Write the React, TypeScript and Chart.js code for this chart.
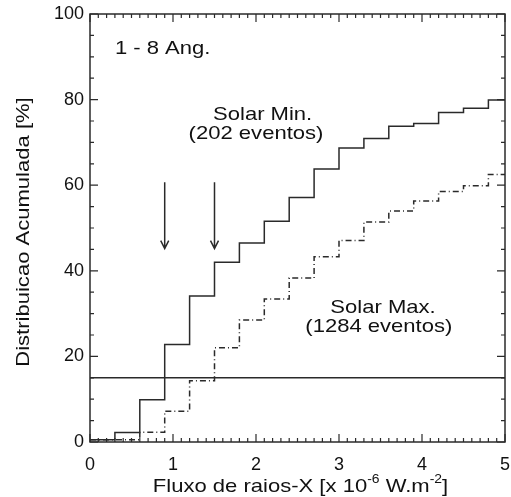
import React, { useEffect, useRef } from "react";
import { Chart, registerables } from "chart.js";

Chart.register(...registerables);

// bin edges of the cumulative histograms (x in 10^-6 W.m^-2)
const binEdges = [0, 0.3, 0.6, 0.9, 1.2, 1.5, 1.8, 2.1, 2.4, 2.7, 3.0, 3.3, 3.6, 3.9, 4.2, 4.5, 4.8, 5.0];
// cumulative distribution [%]
const solarMin = [0.5, 2.2, 9.9, 22.8, 34.1, 42.0, 46.5, 51.6, 57.1, 63.8, 68.7, 70.9, 73.8, 74.4, 77.0, 78.0, 79.9, 79.9];
const solarMax = [0.5, 0.5, 2.3, 7.2, 14.3, 22.0, 28.5, 33.4, 38.3, 43.3, 47.1, 51.4, 54.0, 56.3, 58.5, 59.9, 62.5, 62.5];
const thresholdX = [0, 5];
const thresholdY = [15, 15];
const arrowX = [0.9, 1.5];
const arrowFromY = 60.7;
const arrowToY = 45.2;
const xTicks = [0, 1, 2, 3, 4, 5];
const yTicks = [0, 20, 40, 60, 80, 100];

const INK = "#2a2a2a";
const FONT = "Liberation Sans, Arial, Helvetica, sans-serif";
const SX = 1.16;

function drawText(ctx: CanvasRenderingContext2D, parts: { t: string; size: number; dy: number }[], x: number, y: number, align: "left" | "center") {
  let total = 0;
  const widths = parts.map((p) => {
    ctx.font = `${p.size}px ${FONT}`;
    const w = ctx.measureText(p.t).width * SX;
    total += w;
    return w;
  });
  let cx = align === "center" ? x - total / 2 : x;
  parts.forEach((p, i) => {
    ctx.save();
    ctx.font = `${p.size}px ${FONT}`;
    ctx.translate(cx, y + p.dy);
    ctx.scale(SX, 1);
    ctx.textAlign = "left";
    ctx.textBaseline = "alphabetic";
    ctx.fillText(p.t, 0, 0);
    ctx.restore();
    cx += widths[i];
  });
}

const decorPlugin = {
  id: "decor",
  afterDraw(chart: any) {
    const ctx: CanvasRenderingContext2D = chart.ctx;
    const xs = chart.scales.x;
    const ys = chart.scales.y;
    const a = chart.chartArea;
    ctx.save();
    ctx.strokeStyle = INK;
    ctx.fillStyle = "#111";
    ctx.lineWidth = 1.5;
    // frame
    ctx.strokeRect(a.left, a.top, a.right - a.left, a.bottom - a.top);
    // x ticks (inward, bottom and top)
    ctx.lineWidth = 1.2;
    for (let i = 0; i <= 50; i++) {
      const v = i / 10;
      const px = xs.getPixelForValue(v);
      const len = i % 10 === 0 ? 8 : 4;
      ctx.beginPath();
      ctx.moveTo(px, a.bottom);
      ctx.lineTo(px, a.bottom - len);
      ctx.moveTo(px, a.top);
      ctx.lineTo(px, a.top + len);
      ctx.stroke();
    }
    for (let i = 0; i <= 20; i++) {
      const v = i * 5;
      const py = ys.getPixelForValue(v);
      const len = i % 4 === 0 ? 8 : 4;
      ctx.beginPath();
      ctx.moveTo(a.left, py);
      ctx.lineTo(a.left + len, py);
      ctx.moveTo(a.right, py);
      ctx.lineTo(a.right - len, py);
      ctx.stroke();
    }
    // arrows
    ctx.lineWidth = 1.5;
    arrowX.forEach((v) => {
      const px = xs.getPixelForValue(v);
      const y1 = ys.getPixelForValue(arrowFromY);
      const y2 = ys.getPixelForValue(arrowToY);
      ctx.beginPath();
      ctx.moveTo(px, y1);
      ctx.lineTo(px, y2);
      ctx.moveTo(px - 4, y2 - 8);
      ctx.lineTo(px, y2);
      ctx.lineTo(px + 4, y2 - 8);
      ctx.stroke();
    });
    // annotations
    const F = 19;
    drawText(ctx, [{ t: "1 - 8 Ang.", size: F, dy: 0 }], xs.getPixelForValue(0.3), ys.getPixelForValue(90.6), "left");
    drawText(ctx, [{ t: "Solar Min.", size: F, dy: 0 }], xs.getPixelForValue(2.08), ys.getPixelForValue(75.2), "center");
    drawText(ctx, [{ t: "(202 eventos)", size: F, dy: 0 }], xs.getPixelForValue(2.0), ys.getPixelForValue(70.7), "center");
    drawText(ctx, [{ t: "Solar Max.", size: F, dy: 0 }], xs.getPixelForValue(3.53), ys.getPixelForValue(30.2), "center");
    drawText(ctx, [{ t: "(1284 eventos)", size: F, dy: 0 }], xs.getPixelForValue(3.48), ys.getPixelForValue(25.7), "center");
    // x axis title
    drawText(
      ctx,
      [
        { t: "Fluxo de raios-X [x 10", size: F, dy: 0 },
        { t: "-6", size: 12, dy: -9 },
        { t: " W.m", size: F, dy: 0 },
        { t: "-2", size: 12, dy: -9 },
        { t: "]", size: F, dy: 0 },
      ],
      (a.left + a.right) / 2 + 3,
      492,
      "center"
    );
    // y axis title
    ctx.save();
    ctx.translate(29, (a.top + a.bottom) / 2 + 4);
    ctx.rotate(-Math.PI / 2);
    drawText(ctx, [{ t: "Distribuicao Acumulada [%]", size: F, dy: 0 }], 0, 0, "center");
    ctx.restore();
    ctx.restore();
  },
};

export default function App() {
  const ref = useRef<HTMLCanvasElement | null>(null);
  useEffect(() => {
    document.body.style.margin = "0";
    const canvas = ref.current!;
    const chart = new Chart(canvas, {
      type: "line",
      data: {
        datasets: [
          {
            label: "Solar Min. (202 eventos)",
            data: binEdges.map((x, i) => ({ x, y: solarMin[i] })),
            borderColor: INK,
            borderWidth: 1.5,
            stepped: true,
            pointRadius: 0,
            fill: false,
          },
          {
            label: "Solar Max. (1284 eventos)",
            data: binEdges.map((x, i) => ({ x, y: solarMax[i] })),
            borderColor: INK,
            borderWidth: 1.5,
            borderDash: [6, 3, 1, 3],
            stepped: true,
            pointRadius: 0,
            fill: false,
          },
          {
            label: "15%",
            data: thresholdX.map((x, i) => ({ x, y: thresholdY[i] })),
            borderColor: INK,
            borderWidth: 1.5,
            pointRadius: 0,
            fill: false,
          },
        ],
      },
      options: {
        animation: false,
        responsive: false,
        devicePixelRatio: 1,
        layout: { padding: { left: 0, top: 14, right: 6, bottom: 0 } },
        plugins: { legend: { display: false }, tooltip: { enabled: false } },
        scales: {
          x: {
            type: "linear",
            min: 0,
            max: 5,
            grid: { display: false, drawTicks: false },
            border: { display: false },
            ticks: {
              padding: 12,
              color: "#111",
              font: { family: FONT, size: 18 },
              maxRotation: 0,
            },
            afterBuildTicks: (s: any) => {
              s.ticks = xTicks.map((v) => ({ value: v }));
            },
            afterFit: (s: any) => {
              s.height = 55;
              s.paddingLeft = 0;
              s.paddingRight = 0;
            },
          },
          y: {
            type: "linear",
            min: 0,
            max: 100,
            grid: { display: false, drawTicks: false },
            border: { display: false },
            ticks: {
              padding: 6,
              color: "#111",
              font: { family: FONT, size: 18 },
            },
            afterBuildTicks: (s: any) => {
              s.ticks = yTicks.map((v) => ({ value: v }));
            },
            afterFit: (s: any) => {
              s.width = 90;
              s.paddingTop = 0;
              s.paddingBottom = 0;
            },
          },
        },
      },
      plugins: [decorPlugin],
    } as any);
    return () => chart.destroy();
  }, []);
  return (
    <div style={{ position: "absolute", left: 0, top: 0, width: 511, height: 497, background: "#fff" }}>
      <canvas ref={ref} width={511} height={497} style={{ width: 511, height: 497, display: "block" }} />
    </div>
  );
}
